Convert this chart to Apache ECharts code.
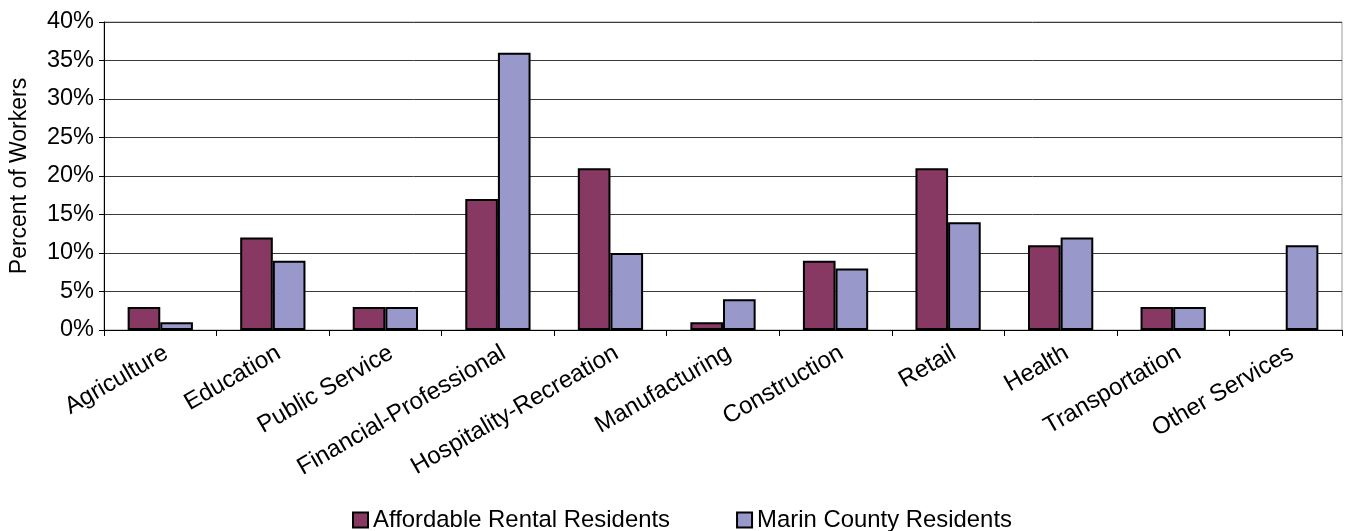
<!DOCTYPE html>
<html>
<head>
<meta charset="utf-8">
<script src="https://cdn.jsdelivr.net/npm/echarts@6/dist/echarts.min.js"></script>
<style>
html,body{margin:0;padding:0;background:#fff;}
#chart{width:1348px;height:531px;}
</style>
</head>
<body>
<div id="chart"></div>
<script>
const categories = ["Agriculture","Education","Public Service","Financial-Professional","Hospitality-Recreation","Manufacturing","Construction","Retail","Health","Transportation","Other Services"];
const affordableRental = [3,12,3,17,21,1,9,21,11,3,0];
const marinCounty = [1,9,3,36,10,4,8,14,12,3,11];
const seriesNames = ["Affordable Rental Residents","Marin County Residents"];
const yTicks = [0,5,10,15,20,25,30,35,40];

const FONT = '"Liberation Sans", Arial, sans-serif';
// zero-height bars have no visible outline in the reference
const toData = arr => arr.map(v => v === 0 ? {value:v, itemStyle:{borderWidth:0}} : v);

const chart = echarts.init(document.getElementById('chart'), null, {renderer:'canvas'});
chart.setOption({
  animation:false,
  backgroundColor:'#fff',
  textStyle:{fontFamily:FONT},
  grid:{left:104,right:6,top:22,bottom:201,show:true,borderColor:'#999',borderWidth:1,outerBoundsMode:'none',containLabel:false},
  legend:{
    data:seriesNames,
    left:347, top:503,
    itemWidth:15,itemHeight:15,itemGap:66,
    textStyle:{fontFamily:FONT,fontSize:23.9,color:'#000'},
    icon:'rect'
  },
  xAxis:{
    type:'category',
    data:categories,
    axisLine:{lineStyle:{color:'#000',width:1}},
    axisTick:{show:true,length:6,lineStyle:{color:'#000'}},
    axisLabel:{rotate:30,fontFamily:FONT,fontSize:24,color:'#000',margin:11,interval:0,verticalAlign:'top'}
  },
  yAxis:{
    type:'value',
    min:yTicks[0],max:yTicks[yTicks.length-1],interval:5,
    name:'Percent of Workers',
    nameLocation:'middle',
    nameGap:73,
    nameRotate:90,
    nameTextStyle:{fontFamily:FONT,fontSize:23,color:'#000'},
    axisLine:{show:true,lineStyle:{color:'#000',width:1}},
    axisTick:{show:true,length:5,lineStyle:{color:'#000'}},
    axisLabel:{formatter:'{value}%',fontFamily:FONT,fontSize:23.5,color:'#000',margin:10},
    splitLine:{show:true,lineStyle:{color:'#3a3a3a',width:1}}
  },
  series:[
    {name:seriesNames[0],type:'bar',data:toData(affordableRental),barGap:'0%',barCategoryGap:'42%',
     itemStyle:{color:'#883963',borderColor:'#000',borderWidth:2}},
    {name:seriesNames[1],type:'bar',data:toData(marinCounty),barGap:'0%',barCategoryGap:'42%',
     itemStyle:{color:'#9898CA',borderColor:'#000',borderWidth:2}}
  ]
});
</script>
</body>
</html>
